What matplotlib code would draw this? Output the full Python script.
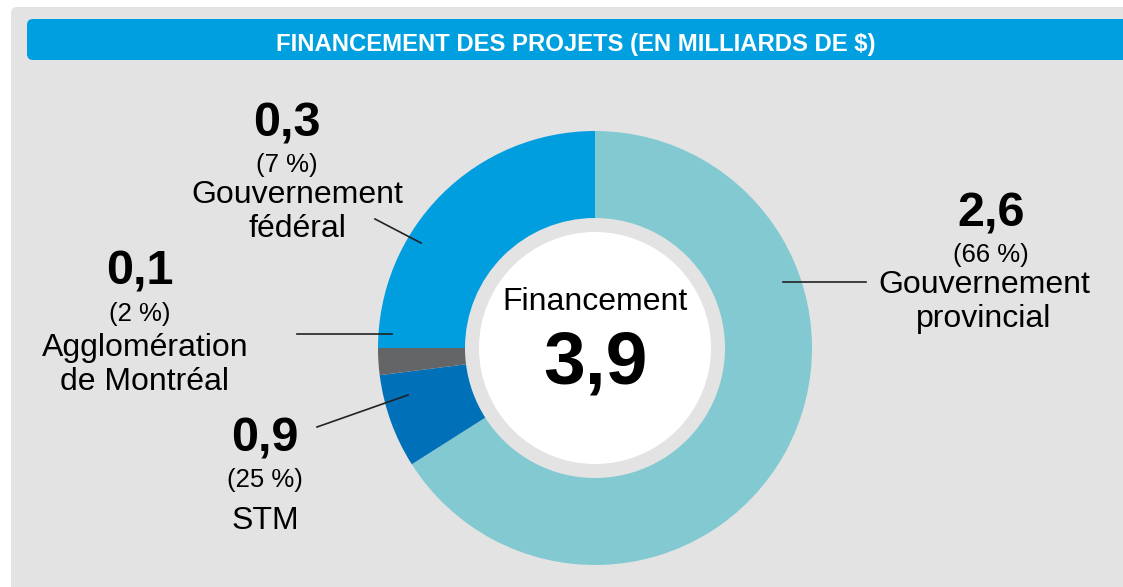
import matplotlib.pyplot as plt
from matplotlib.patches import FancyBboxPatch, Circle

plt.rcParams['font.family'] = ['Liberation Sans', 'DejaVu Sans']

W, H = 1123, 587 # picture size in pixels, the axes use the same units

sources = ['provincial', 'federal', 'agglo', 'stm']
shares = [66, 7, 2, 25] # sweep of each ring piece, clockwise from the top
colors = ['#82c9d1', '#0070b8', '#646567', '#009ddf']

amounts = ['2,6', '0,3', '0,1', '0,9']
percents = ['(66 %)', '(7 %)', '(2 %)', '(25 %)']
names = ['Gouvernement\nprovincial', 'Gouvernement\nfédéral', 'Agglomération\nde Montréal', 'STM']
total = '3,9'
title = 'FINANCEMENT DES PROJETS (EN MILLIARDS DE $)'


def y(v): #turn a picture row into an axes y value
    return H - v


def draw_background():
    ax = plt.gca()
    #grey card with a rounded corner and the blue title strip
    ax.add_patch(FancyBboxPatch((17, y(587) - 20), W + 20, 587 - 7 - 6 + 20,
                                boxstyle='round,pad=6', fc='#e3e3e3', ec='none'))
    ax.add_patch(FancyBboxPatch((33, y(60) + 6), W, 41 - 12,
                                boxstyle='round,pad=6', fc='#009fdf', ec='none'))
    plt.text(576, y(44), title, color='white', fontsize=17.2, fontweight='bold',
             ha='center', va='center')


def draw_donut():
    cx, cy = 595, y(348)
    plt.pie(shares, colors=colors, startangle=90, counterclock=False,
            radius=217, center=(cx, cy),
            wedgeprops=dict(width=87, linewidth=0))
    plt.gca().add_patch(Circle((cx, cy), 116, fc='white', ec='none', zorder=3))
    plt.text(cx, y(302), 'Financement', fontsize=23, ha='center', va='center', zorder=4)
    plt.text(cx, y(364), total, fontsize=54, fontweight='bold', ha='center', va='center', zorder=4)


def draw_labels():
    #leader lines from each text block to the ring
    lines = [((783, 866), (282, 282)),
             ((375, 421), (219, 243)),
             ((297, 392), (334, 334)),
             ((317, 408), (427, 395))]
    for (xs, ys) in lines:
        plt.plot(xs, [y(v) for v in ys], color='#222222', linewidth=1.2)

    #x of numbers, x of name, row of amount, row of percent, row of name
    spots = [(991, 984, 214, 255, 302),
             (287, 297, 124, 165, 212),
             (140, 145, 272, 314, 365),
             (265, 265, 439, 480, 521)]
    for i in range(len(sources)):
        sx, nx, ra, rp, rn = spots[i]
        plt.text(sx, y(ra), amounts[i], fontsize=35, fontweight='bold', ha='center', va='center')
        plt.text(sx, y(rp), percents[i], fontsize=18.5, ha='center', va='center')
        plt.text(nx, y(rn), names[i], fontsize=23, ha='center', va='center', linespacing=1.2)


def main():
    plt.figure(figsize=(W / 100, H / 100), dpi=100)
    plt.axes([0, 0, 1, 1])
    draw_background()
    draw_donut()
    draw_labels()
    plt.xlim(0, W)
    plt.ylim(0, H)
    plt.gca().set_aspect('equal')
    plt.axis('off')
    plt.savefig('out.png', dpi=100, facecolor='white')


if __name__ == '__main__':
    main()
